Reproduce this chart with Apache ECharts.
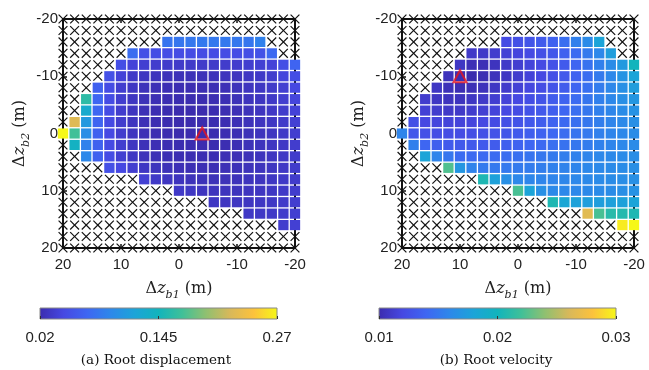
<!DOCTYPE html>
<html><head><meta charset="utf-8">
<script src="https://cdn.jsdelivr.net/npm/echarts@6/dist/echarts.min.js"></script>
<style>html,body{margin:0;padding:0;background:#fff}#c{width:649px;height:370px}</style>
</head><body><div id="c"></div>
<script>
const n = null;
// grid coordinates (m)
const xCoords = [20,18,16,14,12,10,8,6,4,2,0,-2,-4,-6,-8,-10,-12,-14,-16,-18,-20];
const yCoords = [-20,-18,-16,-14,-12,-10,-8,-6,-4,-2,0,2,4,6,8,10,12,14,16,18,20];

// (a) Root displacement: rows follow yCoords, columns follow xCoords (null = X marker)
const dispRows = [
 [n,n,n,n,n,n,n,n,n,n,n,n,n,n,n,n,n,n,n,n,n],
 [n,n,n,n,n,n,n,n,n,n,n,n,n,n,n,n,n,n,n,n,n],
 [n,n,n,n,n,n,n,n,n,.080,.082,.083,.084,.084,.084,.083,.082,.090,n,n,n],
 [n,n,n,n,n,n,.075,.052,.050,.049,.048,.048,.048,.048,.048,.049,.050,.053,.072,n,n],
 [n,n,n,n,n,.050,.040,.037,.035,.034,.033,.033,.033,.033,.034,.035,.036,.038,.040,.050,.068],
 [n,n,n,n,.052,.040,.032,.029,.027,.026,.025,.025,.025,.026,.027,.028,.030,.032,.035,.042,.050],
 [n,n,n,.065,.048,.036,.030,.026,.024,.023,.022,.022,.022,.023,.024,.026,.028,.030,.033,.037,.045],
 [n,n,.160,.070,.048,.036,.029,.025,.023,.022,.021,.021,.021,.022,.023,.025,.027,.029,.032,.036,.042],
 [n,n,.130,.070,.048,.035,.028,.024,.022,.021,.020,.020,.020,.021,.022,.024,.026,.028,.031,.034,.040],
 [n,.225,.110,.068,.047,.035,.028,.024,.022,.021,.020,.020,.020,.021,.022,.024,.026,.028,.030,.033,.038],
 [.270,.170,.100,.066,.046,.035,.028,.024,.022,.021,.020,.020,.020,.021,.022,.023,.025,.027,.029,.032,.036],
 [n,.140,.090,.066,.047,.036,.029,.025,.023,.022,.021,.021,.021,.021,.022,.023,.025,.027,.029,.031,.035],
 [n,n,.095,.066,.048,.037,.030,.026,.024,.023,.022,.022,.022,.022,.023,.024,.025,.027,.029,.031,.034],
 [n,n,n,n,.052,.045,.036,.030,.027,.025,.024,.023,.023,.023,.024,.025,.026,.027,.029,.031,.034],
 [n,n,n,n,n,n,n,.038,.032,.029,.027,.026,.025,.025,.025,.026,.027,.028,.030,.032,.034],
 [n,n,n,n,n,n,n,n,n,n,.032,.030,.028,.027,.027,.027,.028,.029,.030,.032,.035],
 [n,n,n,n,n,n,n,n,n,n,n,n,n,.030,.029,.029,.029,.030,.031,.033,.036],
 [n,n,n,n,n,n,n,n,n,n,n,n,n,n,n,n,.031,.031,.032,.034,.037],
 [n,n,n,n,n,n,n,n,n,n,n,n,n,n,n,n,n,n,n,.035,.038],
 [n,n,n,n,n,n,n,n,n,n,n,n,n,n,n,n,n,n,n,n,n],
 [n,n,n,n,n,n,n,n,n,n,n,n,n,n,n,n,n,n,n,n,n]
];

// (b) Root velocity
const velRows = [
 [n,n,n,n,n,n,n,n,n,n,n,n,n,n,n,n,n,n,n,n,n],
 [n,n,n,n,n,n,n,n,n,n,n,n,n,n,n,n,n,n,n,n,n],
 [n,n,n,n,n,n,n,n,n,.0122,.0125,.0128,.0132,.0137,.0145,.0155,.0162,.0180,n,n,n],
 [n,n,n,n,n,n,.0110,.0110,.0112,.0115,.0118,.0121,.0125,.0130,.0136,.0143,.0152,.0160,.0175,n,n],
 [n,n,n,n,n,.0108,.0103,.0103,.0106,.0110,.0113,.0117,.0121,.0126,.0132,.0139,.0147,.0155,.0163,.0172,.0200],
 [n,n,n,n,.0105,.0102,.0100,.0102,.0105,.0108,.0112,.0116,.0120,.0125,.0131,.0137,.0144,.0152,.0160,.0168,.0180],
 [n,n,n,.0108,.0104,.0102,.0103,.0105,.0108,.0111,.0115,.0119,.0123,.0128,.0133,.0139,.0146,.0153,.0160,.0166,.0175],
 [n,n,.0112,.0108,.0106,.0106,.0108,.0110,.0113,.0116,.0120,.0124,.0128,.0133,.0138,.0143,.0149,.0155,.0160,.0165,.0170],
 [n,n,.0115,.0112,.0110,.0110,.0112,.0114,.0117,.0120,.0123,.0127,.0131,.0135,.0140,.0145,.0150,.0155,.0159,.0163,.0167],
 [n,.0125,.0120,.0118,.0117,.0117,.0118,.0120,.0122,.0125,.0128,.0131,.0134,.0138,.0142,.0146,.0150,.0154,.0158,.0161,.0165],
 [.0158,.0130,.0126,.0124,.0123,.0123,.0124,.0125,.0127,.0129,.0132,.0135,.0138,.0141,.0144,.0148,.0151,.0155,.0158,.0160,.0163],
 [n,.0155,.0140,.0135,.0132,.0131,.0131,.0132,.0133,.0135,.0137,.0140,.0142,.0145,.0147,.0150,.0153,.0156,.0158,.0160,.0162],
 [n,n,.0180,.0158,.0150,.0143,.0142,.0142,.0143,.0144,.0146,.0148,.0150,.0152,.0154,.0156,.0158,.0160,.0161,.0162,.0164],
 [n,n,n,n,.0224,.0170,.0157,.0152,.0151,.0151,.0152,.0153,.0154,.0156,.0157,.0158,.0160,.0161,.0162,.0163,.0165],
 [n,n,n,n,n,n,n,.0205,.0178,.0165,.0160,.0159,.0158,.0158,.0159,.0160,.0161,.0162,.0163,.0164,.0166],
 [n,n,n,n,n,n,n,n,n,n,.0222,.0180,.0166,.0161,.0160,.0160,.0161,.0162,.0163,.0165,.0167],
 [n,n,n,n,n,n,n,n,n,n,n,n,n,.0205,.0182,.0178,.0176,.0176,.0177,.0178,.0180],
 [n,n,n,n,n,n,n,n,n,n,n,n,n,n,n,n,.0265,.0222,.0210,.0208,.0205],
 [n,n,n,n,n,n,n,n,n,n,n,n,n,n,n,n,n,n,n,.0295,.0300],
 [n,n,n,n,n,n,n,n,n,n,n,n,n,n,n,n,n,n,n,n,n],
 [n,n,n,n,n,n,n,n,n,n,n,n,n,n,n,n,n,n,n,n,n]
];

const dispRange = [0.02, 0.27];
const velRange = [0.01, 0.03];
const dispBarLabels = ['0.02', '0.145', '0.27'];
const velBarLabels = ['0.01', '0.02', '0.03'];
const dispMarker = [[-4, 0]];
const velMarker = [[10, -10]];
const captions = ['(a) Root displacement', '(b) Root velocity'];

const parula = ['#3b2cae','#4648e2','#3e66f2','#2d88ea','#1ca4d8','#12b4bc','#40c098','#90c070','#d8b85a','#fcc23c','#f6f818'];

function split(rows) {
  const cells = [], crosses = [];
  rows.forEach((row, j) => row.forEach((v, i) => {
    if (v === null) crosses.push([xCoords[i], yCoords[j]]);
    else cells.push([xCoords[i], yCoords[j], v]);
  }));
  return {cells, crosses};
}
const A = split(dispRows), B = split(velRows);

function renderCell(params, api) {
  const p = api.coord([api.value(0), api.value(1)]);
  const s = api.size([2, 2]);
  const w = Math.abs(s[0]) - 1.3, h = Math.abs(s[1]) - 1.3;
  return {type: 'rect', shape: {x: p[0] - w / 2, y: p[1] - h / 2, width: w, height: h},
    style: {fill: api.visual('color')}};
}
function renderCross(params, api) {
  const p = api.coord([api.value(0), api.value(1)]);
  const r = 4.4;
  const st = {stroke: '#111', lineWidth: 1.2};
  return {type: 'group', children: [
    {type: 'line', shape: {x1: p[0]-r, y1: p[1]-r, x2: p[0]+r, y2: p[1]+r}, style: st},
    {type: 'line', shape: {x1: p[0]-r, y1: p[1]+r, x2: p[0]+r, y2: p[1]-r}, style: st}
  ]};
}
function renderBar(params, api) {
  const p0 = api.coord([0, 1]), p1 = api.coord([2, 0]);
  return {type: 'rect', shape: {x: p0[0], y: p0[1], width: p1[0] - p0[0], height: p1[1] - p0[1]},
    style: {fill: {type: 'linear', x: 0, y: 0, x2: 1, y2: 0,
      colorStops: parula.map((c, k) => ({offset: k / (parula.length - 1), color: c}))},
      stroke: '#888', lineWidth: 1}};
}

const tickFont = {fontFamily: 'Liberation Sans', fontSize: 15, color: '#222'};
const nameStyle = {fontFamily: 'DejaVu Serif', fontSize: 16, color: '#222', lineHeight: 24,
  rich: {z: {fontFamily: 'DejaVu Serif', fontStyle: 'italic', fontSize: 16, color: '#222'},
         s: {fontFamily: 'DejaVu Serif', fontStyle: 'italic', fontSize: 11, color: '#222', verticalAlign: 'bottom'}}};

function mainAxes(g, isX) {
  const base = {gridIndex: g, type: 'value', min: -20, max: 20, interval: 10, inverse: true,
    splitLine: {show: false},
    axisLine: {show: true, onZero: false, lineStyle: {color: '#111', width: 2}},
    axisTick: {show: true, inside: true, length: 4, lineStyle: {color: '#111', width: 1.5}}};
  if (isX) return [
    Object.assign({}, base, {position: 'bottom', axisLabel: Object.assign({margin: 9}, tickFont),
      name: 'Δ{z|z}{s|b1} (m)', nameLocation: 'middle', nameGap: 29, nameTextStyle: nameStyle}),
    Object.assign({}, base, {position: 'top', axisLabel: {show: false}})
  ];
  return [
    Object.assign({}, base, {position: 'left', axisLabel: Object.assign({margin: 5}, tickFont),
      name: 'Δ{z|z}{s|b2} (m)', nameLocation: 'middle', nameGap: 31, nameRotate: 90, nameTextStyle: nameStyle}),
    Object.assign({}, base, {position: 'right', axisLabel: {show: false}})
  ];
}
function barAxes(g, labels) {
  return {
    x: {gridIndex: g, type: 'value', min: 0, max: 2, interval: 1, z: 5,
      axisLine: {show: false}, splitLine: {show: false},
      axisTick: {show: true, inside: true, length: 3, lineStyle: {color: '#333'}},
      axisLabel: Object.assign({margin: 11, formatter: v => labels[Math.round(v)]}, tickFont)},
    y: {gridIndex: g, type: 'value', min: 0, max: 1, show: false}
  };
}
const ba = barAxes(2, dispBarLabels), bb = barAxes(3, velBarLabels);

const option = {
  animation: false,
  grid: [
    {left: 63, top: 19, width: 232, height: 229},
    {left: 402, top: 19, width: 232, height: 229},
    {left: 40, top: 308, width: 237, height: 11},
    {left: 379, top: 308, width: 237, height: 11}
  ],
  xAxis: [...mainAxes(0, true), ...mainAxes(1, true), ba.x, bb.x],
  yAxis: [...mainAxes(0, false), ...mainAxes(1, false), ba.y, bb.y],
  visualMap: [
    {type: 'continuous', show: false, seriesIndex: 0, dimension: 2, min: dispRange[0], max: dispRange[1], inRange: {color: parula}},
    {type: 'continuous', show: false, seriesIndex: 3, dimension: 2, min: velRange[0], max: velRange[1], inRange: {color: parula}}
  ],
  series: [
    {type: 'custom', xAxisIndex: 0, yAxisIndex: 0, data: A.cells, renderItem: renderCell, z: 3},
    {type: 'custom', xAxisIndex: 0, yAxisIndex: 0, data: A.crosses, renderItem: renderCross, z: 4},
    {type: 'scatter', xAxisIndex: 0, yAxisIndex: 0, data: dispMarker, symbol: 'triangle', symbolSize: [13, 12],
      itemStyle: {color: 'rgba(0,0,0,0)', borderColor: '#e8141c', borderWidth: 2}, z: 10},
    {type: 'custom', xAxisIndex: 2, yAxisIndex: 2, data: B.cells, renderItem: renderCell, z: 3},
    {type: 'custom', xAxisIndex: 2, yAxisIndex: 2, data: B.crosses, renderItem: renderCross, z: 4},
    {type: 'scatter', xAxisIndex: 2, yAxisIndex: 2, data: velMarker, symbol: 'triangle', symbolSize: [13, 12],
      itemStyle: {color: 'rgba(0,0,0,0)', borderColor: '#e8141c', borderWidth: 2}, z: 10},
    {type: 'custom', xAxisIndex: 4, yAxisIndex: 4, data: [[0, 0]], renderItem: renderBar, z: 2},
    {type: 'custom', xAxisIndex: 5, yAxisIndex: 5, data: [[0, 0]], renderItem: renderBar, z: 2}
  ],
  graphic: [
    {type: 'text', x: 156, y: 360, style: {text: captions[0], font: '13.5px "DejaVu Serif"', fill: '#111', align: 'center', verticalAlign: 'middle'}},
    {type: 'text', x: 496, y: 360, style: {text: captions[1], font: '13.5px "DejaVu Serif"', fill: '#111', align: 'center', verticalAlign: 'middle'}}
  ]
};
const chart = echarts.init(document.getElementById('c'), null, {renderer: 'canvas'});
chart.setOption(option);
</script>
</body></html>
